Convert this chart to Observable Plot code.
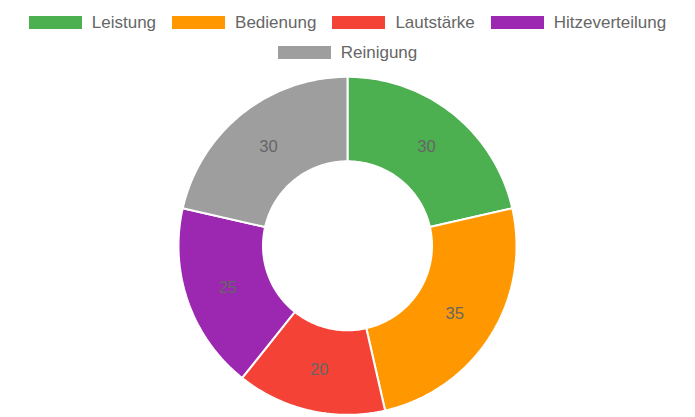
<!DOCTYPE html>
<html>
<head>
<meta charset="utf-8">
<script src="https://cdn.jsdelivr.net/npm/d3@7"></script>
<script src="https://cdn.jsdelivr.net/npm/@observablehq/plot@0.6"></script>
<style>
  html, body { margin: 0; padding: 0; background: #fff; }
  body { width: 695px; height: 417px; overflow: hidden; font-family: "Liberation Sans", Arial, sans-serif; }
  #legend { width: 695px; height: 70px; box-sizing: border-box; padding-top: 7.5px; display: flex; flex-wrap: wrap; justify-content: center; align-content: flex-start; column-gap: 16px; }
  .item { display: flex; align-items: center; height: 30px; font-size: 17px; color: #666; }
  .box { width: 53px; height: 13px; margin-right: 10px; }
</style>
</head>
<body>
<div id="legend"></div>
<div id="chart"></div>
<script>
const categories = ["Leistung", "Bedienung", "Lautstärke", "Hitzeverteilung", "Reinigung"];
const values = [30, 35, 20, 25, 30];
const colors = ["#4CAF50", "#FF9800", "#F44336", "#9C27B0", "#9E9E9E"];

// legend
const legend = document.getElementById("legend");
categories.forEach((c, i) => {
  const it = document.createElement("div");
  it.className = "item";
  const b = document.createElement("div");
  b.className = "box";
  b.style.background = colors[i];
  const t = document.createElement("span");
  t.textContent = c;
  it.appendChild(b); it.appendChild(t);
  legend.appendChild(it);
});

// geometry from d3.pie
const innerRatio = 0.5;
const arcs = d3.pie().sort(null).startAngle(0).endAngle(2 * Math.PI)(values);
const ring = [];
arcs.forEach((a, i) => {
  const cat = categories[i];
  const n = Math.max(8, Math.ceil((a.endAngle - a.startAngle) * 60));
  const pts = [];
  for (let k = 0; k <= n; k++) {
    const t = a.startAngle + (a.endAngle - a.startAngle) * k / n;
    pts.push({x: Math.sin(t), y: Math.cos(t), cat});
  }
  for (let k = n; k >= 0; k--) {
    const t = a.startAngle + (a.endAngle - a.startAngle) * k / n;
    pts.push({x: innerRatio * Math.sin(t), y: innerRatio * Math.cos(t), cat});
  }
  pts.push({...pts[0]});
  ring.push(...pts);
});
const labels = arcs.map((a, i) => {
  const m = (a.startAngle + a.endAngle) / 2;
  const r = (1 + innerRatio) / 2;
  return {x: r * Math.sin(m), y: r * Math.cos(m), v: values[i]};
});

const cx = 347, R = 169, cyTop = 245.3 - 70;
const plot = Plot.plot({
  width: 695,
  height: 347,
  marginLeft: cx - R,
  marginRight: 695 - (cx + R),
  marginTop: cyTop - R,
  marginBottom: 347 - (cyTop + R),
  x: {domain: [-1, 1], axis: null},
  y: {domain: [-1, 1], axis: null},
  color: {domain: categories, range: colors},
  style: {fontFamily: "Liberation Sans, Arial, sans-serif", background: "#fff"},
  marks: [
    Plot.line(ring, {x: "x", y: "y", z: "cat", fill: "cat", stroke: "#fff", strokeWidth: 2, strokeLinejoin: "miter", curve: "linear"}),
    Plot.text(labels, {x: "x", y: "y", text: d => String(d.v), fill: "#666", fontSize: 16.6})
  ]
});
document.getElementById("chart").appendChild(plot);
</script>
</body>
</html>
